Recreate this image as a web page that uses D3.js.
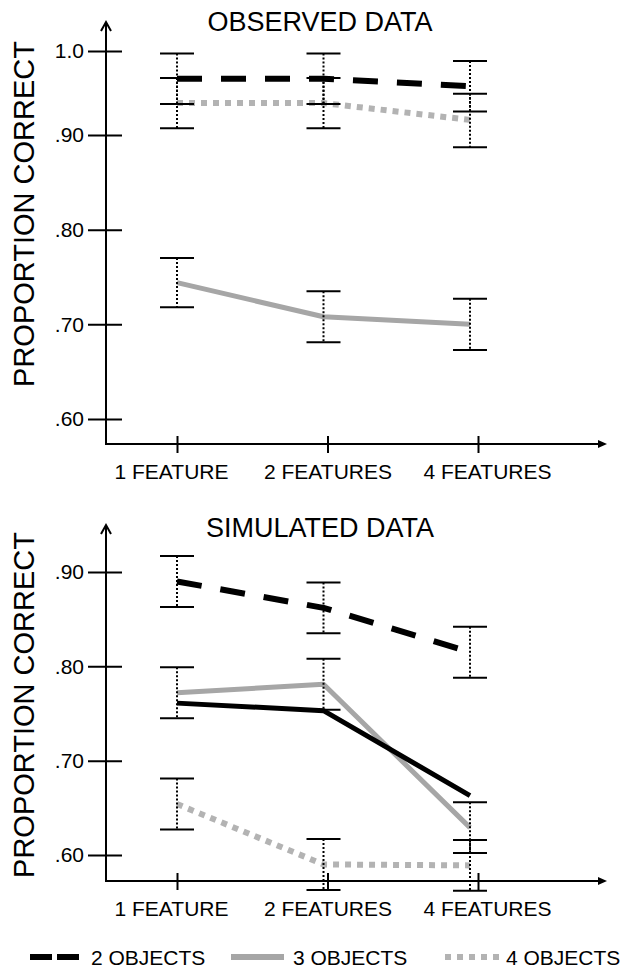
<!DOCTYPE html>
<html lang="en">
<head>
<meta charset="utf-8">
<script src="https://d3js.org/d3.v7.min.js"></script>
<style>
  body { margin: 0; background: #fff; }
  text { font-family: "Liberation Sans", Arial, sans-serif; fill: #000; }
</style>
</head>
<body>
<div id="canvas"></div>
<script>
// categories and tick labels
var categories = ["1 FEATURE", "2 FEATURES", "4 FEATURES"];
var legendNames = ["2 OBJECTS", "3 OBJECTS", "4 OBJECTS"];
var obsTicks = [1.0, 0.9, 0.8, 0.7, 0.6];
var obsTickLabels = ["1.0", ".90", ".80", ".70", ".60"];
var simTicks = [0.9, 0.8, 0.7, 0.6];
var simTickLabels = [".90", ".80", ".70", ".60"];

// observed data (mean, error)
var obs2 = [0.967, 0.967, 0.958];
var obs2Err = [0.030, 0.030, 0.030];
var obs3 = [0.744, 0.708, 0.700];
var obs3Err = [0.026, 0.027, 0.027];
var obs4 = [0.938, 0.938, 0.918];
var obs4Err = [0.030, 0.030, 0.031];

// simulated data
var sim2 = [0.890, 0.862, 0.815];
var sim2Err = [0.027, 0.027, 0.027];
var sim3 = [0.772, 0.781, 0.629];
var sim3Err = [0.027, 0.027, 0.027];
var sim4 = [0.654, 0.590, 0.589];
var sim4Err = [0.027, 0.027, 0.027];
var simBlack = [0.761, 0.753, 0.663];

var styles = {
  two:   {stroke: "#000", width: 6, dash: "25,19"},
  three: {stroke: "#a6a6a6", width: 5, dash: null},
  four:  {stroke: "#b3b3b3", width: 6, dash: "6,6"},
  black: {stroke: "#000", width: 5, dash: null}
};
var labelShift = [-6, 0, 9];

var svg = d3.select("#canvas").append("svg")
  .attr("width", 622)
  .attr("height", 969)
  .style("background-color", "#fff");

var x = d3.scalePoint().domain(categories).range([177, 470]);
var xTick = d3.scalePoint().domain(categories).range([177, 478]);

function drawPanel(opt) {
  var g = svg.append("g");
  var y = opt.y;
  var axisX = 106, left = 106, right = 607;

  // lines
  var line = d3.line()
    .x(function(d, i) { return x(categories[i]); })
    .y(function(d) { return y(d); });

  opt.series.forEach(function(s) {
    g.append("path")
      .attr("d", line(s.values))
      .attr("fill", "none")
      .attr("stroke", s.style.stroke)
      .attr("stroke-width", s.style.width)
      .attr("stroke-dasharray", s.style.dash)
      .attr("stroke-linejoin", "round");
  });

  // error bars on top
  opt.series.forEach(function(s) {
    if (!s.err) return;
    s.values.forEach(function(v, i) {
      var cx = x(categories[i]);
      var top = y(v + s.err[i]), bot = y(v - s.err[i]);
      g.append("line")
        .attr("x1", cx).attr("x2", cx)
        .attr("y1", top).attr("y2", bot)
        .attr("stroke", "#000")
        .attr("stroke-width", 2)
        .attr("stroke-dasharray", "2,2");
      [top, bot].forEach(function(cy) {
        g.append("line")
          .attr("x1", cx - 17).attr("x2", cx + 17)
          .attr("y1", cy).attr("y2", cy)
          .attr("stroke", "#000")
          .attr("stroke-width", 2);
      });
    });
  });

  // y axis
  var yAxis = d3.axisLeft(y)
    .tickValues(opt.ticks)
    .tickFormat(function(d, i) { return opt.tickLabels[i]; })
    .tickSize(18)
    .tickPadding(4);
  var ya = g.append("g")
    .attr("transform", "translate(" + axisX + ",0)")
    .call(yAxis);
  ya.select(".domain").remove();
  ya.selectAll(".tick line").attr("x2", -18).attr("x1", 16).attr("stroke-width", 2);
  ya.selectAll(".tick text").style("font-size", "21px").attr("font-family", null);

  // x axis
  var xAxis = d3.axisBottom(xTick).tickSize(9).tickPadding(11);
  var xa = g.append("g")
    .attr("transform", "translate(0," + opt.base + ")")
    .call(xAxis);
  xa.select(".domain").remove();
  xa.selectAll(".tick line").attr("y1", -8).attr("stroke-width", 2);
  xa.selectAll(".tick text")
    .style("font-size", "21px")
    .attr("font-family", null)
    .attr("dx", function(d, i) { return labelShift[i]; });

  // axis lines with arrows
  g.append("line")
    .attr("x1", axisX).attr("x2", axisX)
    .attr("y1", opt.base + 1).attr("y2", opt.top)
    .attr("stroke", "#000").attr("stroke-width", 2);
  g.append("path")
    .attr("d", "M" + (axisX - 5) + "," + (opt.top + 9) + "L" + axisX + "," + opt.top + "L" + (axisX + 5) + "," + (opt.top + 9))
    .attr("fill", "none").attr("stroke", "#000").attr("stroke-width", 2);
  g.append("line")
    .attr("x1", left).attr("x2", right - 4)
    .attr("y1", opt.base).attr("y2", opt.base)
    .attr("stroke", "#000").attr("stroke-width", 2);
  g.append("path")
    .attr("d", "M" + (right - 9) + "," + (opt.base - 4) + "L" + right + "," + opt.base + "L" + (right - 9) + "," + (opt.base + 4) + "Z")
    .attr("fill", "#000");

  // title
  g.append("text")
    .attr("x", 320)
    .attr("y", opt.titleY)
    .attr("text-anchor", "middle")
    .style("font-size", "27px")
    .text(opt.title);

  // y label
  g.append("text")
    .attr("transform", "translate(34," + opt.labelY + ") rotate(-90)")
    .attr("text-anchor", "middle")
    .style("font-size", "29px")
    .text("PROPORTION CORRECT");
}

drawPanel({
  title: "OBSERVED DATA",
  titleY: 31,
  labelY: 214,
  top: 22,
  base: 444,
  y: d3.scaleLinear().domain([0.6, 0.9, 1.0]).range([419, 135, 51]),
  ticks: obsTicks,
  tickLabels: obsTickLabels,
  series: [
    {values: obs3, err: obs3Err, style: styles.three},
    {values: obs4, err: obs4Err, style: styles.four},
    {values: obs2, err: obs2Err, style: styles.two}
  ]
});

drawPanel({
  title: "SIMULATED DATA",
  titleY: 537,
  labelY: 705,
  top: 525,
  base: 881,
  y: d3.scaleLinear().domain([0.6, 0.9]).range([855, 572]),
  ticks: simTicks,
  tickLabels: simTickLabels,
  series: [
    {values: sim4, err: sim4Err, style: styles.four},
    {values: sim3, err: sim3Err, style: styles.three},
    {values: simBlack, err: null, style: styles.black},
    {values: sim2, err: sim2Err, style: styles.two}
  ]
});

// legend
var legendStyles = [
  {x0: 30, x1: 80, stroke: "#000", width: 6, dash: "22,5", tx: 91},
  {x0: 231, x1: 284, stroke: "#a6a6a6", width: 6, dash: null, tx: 293},
  {x0: 445, x1: 504, stroke: "#b3b3b3", width: 6, dash: "6,6", tx: 506}
];
var legend = svg.append("g");
legendNames.forEach(function(name, i) {
  var s = legendStyles[i];
  legend.append("line")
    .attr("x1", s.x0).attr("x2", s.x1)
    .attr("y1", 957).attr("y2", 957)
    .attr("stroke", s.stroke)
    .attr("stroke-width", s.width)
    .attr("stroke-dasharray", s.dash);
  legend.append("text")
    .attr("x", s.tx)
    .attr("y", 965)
    .style("font-size", "21px")
    .text(name);
});
</script>
</body>
</html>
